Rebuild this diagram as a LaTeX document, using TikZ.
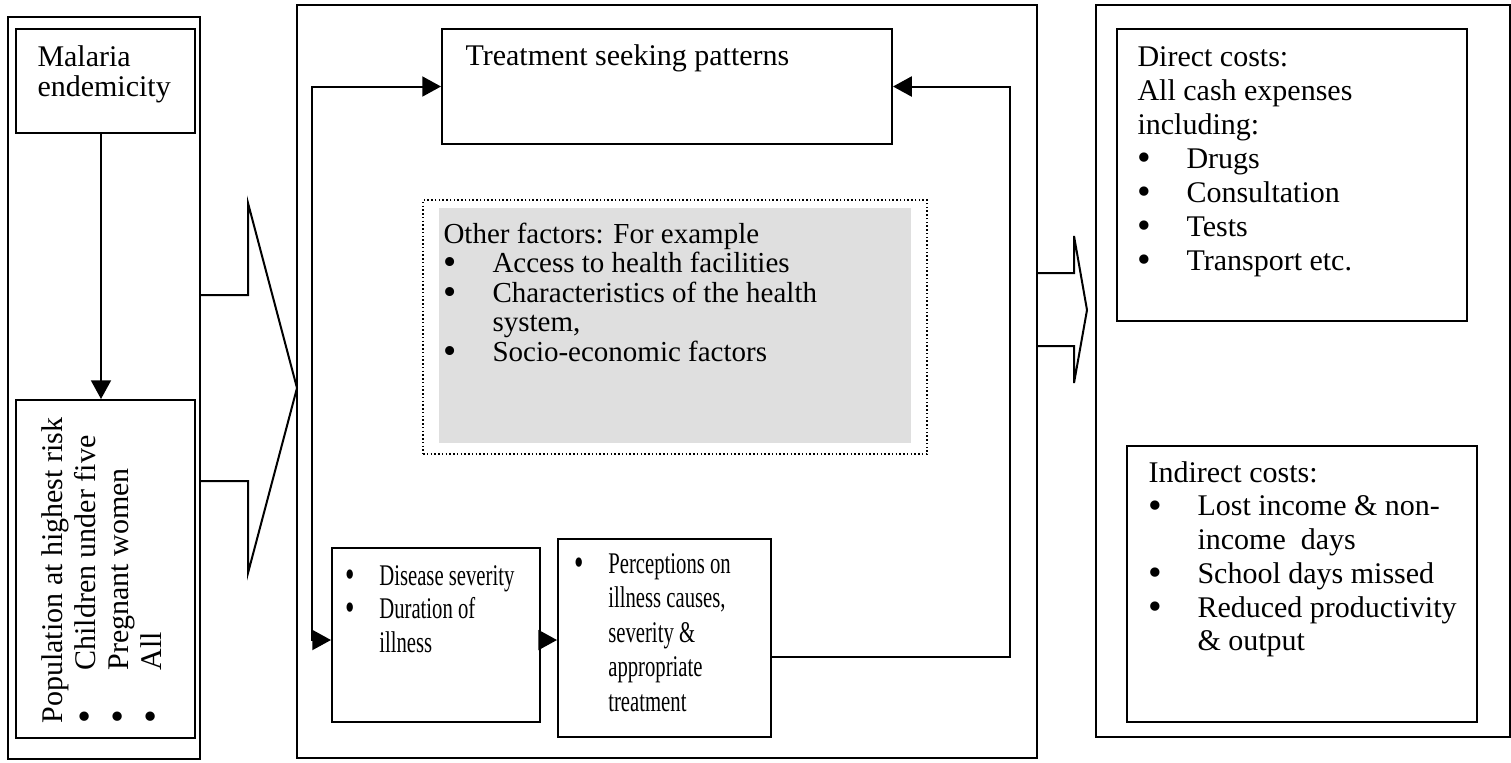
\documentclass[tikz,border=0pt]{standalone}
\usepackage{fontspec}
\usepackage{graphicx}
\setmainfont{Liberation Serif}
\usetikzlibrary{arrows.meta,fit,calc}
\definecolor{shade}{RGB}{223,223,223}
\newcommand\bul[1]{\makebox[#1][l]{\smash{\raisebox{-0.9pt}{\scalebox{1.3}{\textbullet}}}}}
\newcommand\txtblk[3][12pt]{\parbox[t]{400pt}{\fontsize{#1}{#2}\selectfont #3}}
\newcommand\sqz[1]{\scalebox{0.69}[1]{#1}}
\begin{document}
\begin{tikzpicture}[x=0.4pt,y=-0.4pt,
  box/.style={draw, line width=0.8pt, inner sep=0pt},
  lbl/.style={inner sep=0pt, anchor=base west},
  conn/.style={line width=0.8pt},
  headarrow/.style={-{Triangle[length=7.5pt,width=8pt]}},
  twoheads/.style={{Triangle[length=7.5pt,width=8pt]}-{Triangle[length=7.5pt,width=8pt]}}]
\useasboundingbox (0,0) rectangle (1511,762);

% outer columns
\node[box, fit={(8,17) (200,759)}] (leftcol) {};
\node[box, fit={(297,5) (1037,758)}] (midcol) {};
\node[box, fit={(1096,5) (1510,737)}] (rightcol) {};

% inner boxes
\node[box, fit={(16,29) (195,133)}] (mal) {};
\node[box, fit={(16,400) (195,738)}] (pop) {};
\node[box, fit={(442,29) (892,144)}] (treat) {};
\node[draw, line width=0.5pt, dash pattern=on 0.6pt off 0.9pt, inner sep=0pt, fit={(423,200) (927,454)}] (dotbox) {};
\node[fill=shade, inner sep=0pt, fit={(439,208) (911,443)}] (graybox) {};
\node[box, fit={(332,548) (540,722)}] (dis) {};
\node[box, fit={(558,539) (771,737)}] (per) {};
\node[box, fit={(1117,29) (1467,321)}] (dir) {};
\node[box, fit={(1127,446) (1477,722)}] (ind) {};

% block arrows
\draw[conn] (200,295) -- (248,295) -- (248,203) -- (297,388) -- (248,573) -- (248,481) -- (200,481);
\draw[conn] (1037,273) -- (1074,273) -- (1074,236) -- (1087,310) -- (1074,383) -- (1074,346) -- (1037,346);

% connectors
\coordinate (vx) at (101,0);
\draw[conn, headarrow] (mal.south -| vx) -- (pop.north -| vx);
\coordinate (lc) at (312,640);
\draw[conn, twoheads] (treat.west) -| (lc) -- (lc -| dis.west);
\draw[conn, headarrow] (lc -| dis.east) -- (lc -| per.west);
\coordinate (rc) at (1010,657);
\draw[conn, headarrow] (rc -| per.east) -- (rc) |- (treat.east);

% texts
\node[lbl] (maltxt) at (37,66) {\txtblk{12pt}{Malaria\\endemicity}};
\node[lbl, rotate=90] (poptxt) at (62,724) {\txtblk{13.2pt}{Population at highest risk\\
  \bul{21.2pt}Children under five\\
  \bul{21.2pt}Pregnant women\\
  \bul{21.2pt}All}};
\node[lbl] (treattxt) at (465,65) {\txtblk{13.6pt}{Treatment seeking patterns}};
\node[lbl] (graytxt) at (443,243) {\txtblk[11.6pt]{11.8pt}{Other factors: For example\\
  \bul{19.6pt}Access to health facilities\\
  \bul{19.6pt}Characteristics of the health\\
  \hspace*{19.6pt}system,\\
  \bul{19.6pt}Socio-economic factors}};
\node[lbl] (distxt) at (345,585) {\sqz{\txtblk{13.4pt}{\bul{19.6pt}Disease severity\\
  \bul{19.6pt}Duration of\\
  \hspace*{19.6pt}illness}}};
\node[lbl] (pertxt) at (574,573) {\sqz{\txtblk{13.8pt}{\bul{19.6pt}Perceptions on\\
  \hspace*{19.6pt}illness causes,\\
  \hspace*{19.6pt}severity \&\\
  \hspace*{19.6pt}appropriate\\
  \hspace*{19.6pt}treatment}}};
\node[lbl] (dirtxt) at (1137,66) {\txtblk{13.6pt}{Direct costs:\\
  All cash expenses\\
  including:\\
  \bul{19.6pt}Drugs\\
  \bul{19.6pt}Consultation\\
  \bul{19.6pt}Tests\\
  \bul{19.6pt}Transport etc.}};
\node[lbl] (indtxt) at (1148,482) {\txtblk{13.5pt}{Indirect costs:\\
  \bul{19.6pt}Lost income \& non-\\
  \hspace*{19.6pt}income\ \ days\\
  \bul{19.6pt}School days missed\\
  \bul{19.6pt}Reduced productivity\\
  \hspace*{19.6pt}\& output}};
\end{tikzpicture}
\end{document}
